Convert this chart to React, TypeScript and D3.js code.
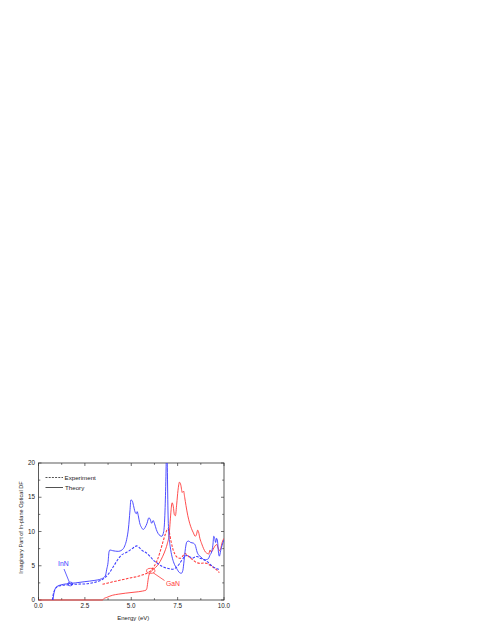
import React from "react";
import * as d3 from "d3";

// ---------- data ----------
const innTheoryX = [0.78, 0.82, 0.88, 0.95, 1.05, 1.2, 1.5, 2.0, 2.5, 3.0, 3.4, 3.6, 3.68, 3.75, 3.8, 3.85, 4.0, 4.3, 4.5, 4.65, 4.75, 4.85, 4.93, 4.98, 5.05, 5.12, 5.2, 5.27, 5.32, 5.38, 5.45, 5.55, 5.65, 5.75, 5.85, 5.95, 6.02, 6.1, 6.18, 6.25, 6.35, 6.45, 6.55, 6.65, 6.75, 6.82, 6.87, 6.9, 6.94, 6.98, 7.03, 7.1, 7.2, 7.3, 7.45, 7.6, 7.7, 7.78, 7.85, 7.92, 8.0, 8.1, 8.2, 8.35, 8.45, 8.55, 8.65, 8.75, 8.85, 8.95, 9.05, 9.15, 9.25, 9.33, 9.4, 9.45, 9.5, 9.55, 9.6, 9.65, 9.7, 9.75, 9.82, 9.9, 10.0];
const innTheoryY = [0, 0.8, 1.5, 1.85, 2.05, 2.2, 2.35, 2.5, 2.68, 2.85, 3.1, 3.5, 4.5, 5.5, 7.0, 7.3, 7.2, 7.1, 7.3, 7.9, 8.8, 10.5, 13.0, 14.6, 14.5, 13.8, 12.9, 12.6, 12.9, 12.3, 11.3, 10.6, 10.3, 10.6, 11.2, 12.0, 11.8, 11.2, 11.6, 11.2, 10.3, 9.7, 9.4, 9.3, 10.0, 13.0, 18.0, 22.0, 20.0, 13.0, 9.5, 7.8, 6.3, 5.4, 4.6, 4.0, 3.9, 4.3, 5.8, 7.5, 8.5, 8.6, 8.4, 8.3, 8.0, 7.0, 6.5, 6.3, 6.0, 5.8, 5.9, 6.0, 6.6, 7.0, 8.0, 9.3, 9.0, 8.4, 9.0, 8.6, 7.0, 6.4, 7.2, 8.0, 8.8];

const innExpX = [0.75, 0.78, 0.82, 0.88, 0.95, 1.05, 1.2, 1.5, 2.0, 2.5, 3.0, 3.3, 3.6, 3.8, 4.0, 4.2, 4.45, 4.7, 4.9, 5.1, 5.3, 5.45, 5.6, 5.8, 6.0, 6.2, 6.4, 6.6, 6.8, 7.0, 7.2, 7.4, 7.6, 7.75, 7.9, 8.0, 8.15, 8.3, 8.45, 8.55, 8.7, 8.9, 9.1, 9.3, 9.5, 9.7, 9.78];
const innExpY = [0, 0.6, 1.1, 1.5, 1.8, 2.0, 2.1, 2.2, 2.3, 2.35, 2.55, 2.8, 3.3, 3.9, 4.7, 5.6, 6.5, 6.9, 7.2, 7.6, 7.9, 7.6, 7.2, 6.9, 6.4, 5.8, 5.4, 5.0, 4.75, 4.6, 4.5, 4.7, 5.3, 5.9, 6.4, 6.5, 6.3, 6.1, 6.3, 6.35, 6.1, 5.95, 5.6, 5.1, 4.7, 4.5, 4.4];

const ganTheoryX = [0, 3.45, 3.5, 3.7, 4.0, 4.3, 4.7, 5.2, 5.6, 5.8, 5.85, 5.9, 5.95, 6.05, 6.2, 6.4, 6.55, 6.7, 6.85, 6.95, 7.05, 7.1, 7.15, 7.2, 7.27, 7.32, 7.38, 7.45, 7.52, 7.6, 7.67, 7.75, 7.82, 7.88, 7.95, 8.05, 8.15, 8.25, 8.35, 8.45, 8.52, 8.58, 8.63, 8.7, 8.8, 8.9, 9.0, 9.1, 9.17, 9.25, 9.3, 9.38, 9.45, 9.55, 9.62, 9.68, 9.75, 9.82, 9.9, 10.0];
const ganTheoryY = [0, 0, 0.15, 0.4, 0.7, 0.85, 1.0, 1.15, 1.3, 1.45, 1.8, 2.8, 3.6, 4.1, 4.5, 5.0, 5.6, 6.4, 7.4, 8.3, 9.7, 11.5, 13.2, 14.2, 13.6, 12.5, 12.3, 14.0, 16.0, 17.2, 16.8, 15.7, 15.9, 15.0, 13.8, 12.3, 11.2, 10.4, 9.8, 9.3, 9.6, 10.2, 9.9, 9.0, 8.2, 7.5, 7.0, 6.8, 6.7, 7.3, 7.0, 7.2, 7.6, 8.0, 8.1, 7.6, 7.2, 7.5, 8.4, 9.0];

const ganExpX = [3.45, 3.7, 4.0, 4.5, 5.0, 5.5, 5.9, 6.1, 6.25, 6.4, 6.55, 6.7, 6.85, 6.97, 7.05, 7.15, 7.25, 7.35, 7.5, 7.65, 7.8, 7.9, 8.0, 8.15, 8.3, 8.5, 8.7, 8.9, 9.05, 9.2, 9.4, 9.6, 9.75];
const ganExpY = [2.3, 2.45, 2.65, 2.95, 3.25, 3.55, 4.0, 4.4, 5.0, 5.8, 7.0, 8.4, 9.7, 10.4, 9.9, 8.5, 7.4, 6.7, 6.2, 6.1, 6.5, 6.8, 6.6, 6.2, 5.9, 5.5, 5.35, 5.4, 5.35, 5.15, 4.8, 4.4, 4.0];

const xTicks = [0, 2.5, 5, 7.5, 10];
const xTickLabels = ["0.0", "2.5", "5.0", "7.5", "10.0"];
const xMinorTicks = [1.25, 3.75, 6.25, 8.75];
const yTicks = [0, 5, 10, 15, 20];
const yTickLabels = ["0", "5", "10", "15", "20"];
const yMinorTicks = [2.5, 7.5, 12.5, 17.5];

const legendLabels = ["Experiment", "Theory"];
const xTitle = "Energy (eV)";
const yTitle = "Imaginary Part of In-plane Optical DF";

// annotation anchors (data coords)
const innMarker = { x: 1.71, y: 2.34, label: "InN" };
const ganMarker = { x: 6.05, y: 4.26, label: "GaN" };

const BLUE = "#3a3aff";
const RED = "#ff3a3a";
const AXIS = "#333";
const FONT = "'Liberation Sans', Arial, sans-serif";

export default function App() {
  const left = 38.5, right = 224, top = 463, bottom = 600;
  const x = d3.scaleLinear().domain([0, 10]).range([left, right]);
  const y = d3.scaleLinear().domain([0, 20]).range([bottom, top]);

  const mk = (xs: number[], ys: number[]) =>
    d3.line<number>().x((_, i) => x(xs[i])).y((_, i) => y(ys[i])).curve(d3.curveMonotoneX)(xs) || "";

  const series = [
    { d: mk(ganTheoryX, ganTheoryY), color: RED, dash: undefined, w: 0.9 },
    { d: mk(ganExpX, ganExpY), color: RED, dash: "2.6,1.4", w: 1.05 },
    { d: mk(innExpX, innExpY), color: BLUE, dash: "2.6,1.4", w: 1.05 },
    { d: mk(innTheoryX, innTheoryY), color: BLUE, dash: undefined, w: 0.9 },
  ];

  const major = 3, minor = 1.8;

  return (
    <svg width={491} height={635} style={{ position: "absolute", left: 0, top: 0, background: "#fff" }}
      fontFamily={FONT}>
      <defs>
        <clipPath id="plotclip">
          <rect x={left} y={top} width={right - left} height={bottom - top + 1} />
        </clipPath>
      </defs>
      {/* frame */}
      <rect x={left} y={top} width={right - left} height={bottom - top} fill="none" stroke={AXIS} strokeWidth={0.8} />
      {/* x ticks */}
      {xTicks.map((t) => (
        <g key={"xt" + t}>
          <line x1={x(t)} x2={x(t)} y1={bottom} y2={bottom - major} stroke={AXIS} strokeWidth={0.7} />
          <line x1={x(t)} x2={x(t)} y1={top} y2={top + major} stroke={AXIS} strokeWidth={0.7} />
        </g>
      ))}
      {xMinorTicks.map((t) => (
        <g key={"xm" + t}>
          <line x1={x(t)} x2={x(t)} y1={bottom} y2={bottom - minor} stroke={AXIS} strokeWidth={0.7} />
          <line x1={x(t)} x2={x(t)} y1={top} y2={top + minor} stroke={AXIS} strokeWidth={0.7} />
        </g>
      ))}
      {yTicks.map((t) => (
        <g key={"yt" + t}>
          <line x1={left} x2={left + major} y1={y(t)} y2={y(t)} stroke={AXIS} strokeWidth={0.7} />
          <line x1={right} x2={right - major} y1={y(t)} y2={y(t)} stroke={AXIS} strokeWidth={0.7} />
        </g>
      ))}
      {yMinorTicks.map((t) => (
        <g key={"ym" + t}>
          <line x1={left} x2={left + minor} y1={y(t)} y2={y(t)} stroke={AXIS} strokeWidth={0.7} />
          <line x1={right} x2={right - minor} y1={y(t)} y2={y(t)} stroke={AXIS} strokeWidth={0.7} />
        </g>
      ))}
      <g clipPath="url(#plotclip)">
        {series.map((s, i) => (
          <path key={i} d={s.d} fill="none" stroke={s.color} strokeWidth={s.w} strokeDasharray={s.dash} />
        ))}
      </g>
      {/* tick labels */}
      {xTicks.map((t, i) => (
        <text key={"xl" + t} x={x(t)} y={bottom + 8.2} fontSize={6.3} textAnchor="middle" fill="#222">{xTickLabels[i]}</text>
      ))}
      {yTicks.map((t, i) => (
        <text key={"yl" + t} x={left - 3.5} y={y(t) + 2.2} fontSize={6.3} textAnchor="end" fill="#222">{yTickLabels[i]}</text>
      ))}
      {/* axis titles */}
      <text x={(left + right) / 2 + 2} y={619.5} fontSize={6} textAnchor="middle" fill="#222">{xTitle}</text>
      <text transform={`translate(23,${(top + bottom) / 2 - 4}) rotate(-90)`} fontSize={5.6} textAnchor="middle" fill="#222">{yTitle}</text>
      {/* legend */}
      <line x1={45.5} x2={63} y1={477.5} y2={477.5} stroke={AXIS} strokeWidth={0.85} strokeDasharray="2,1.2" />
      <text x={64.5} y={479.7} fontSize={6.2} fill="#222">{legendLabels[0]}</text>
      <line x1={45.5} x2={63} y1={487.5} y2={487.5} stroke={AXIS} strokeWidth={0.85} />
      <text x={65} y={489.7} fontSize={6.2} fill="#222">{legendLabels[1]}</text>
      {/* InN annotation */}
      <ellipse cx={x(innMarker.x)} cy={y(innMarker.y)} rx={2.4} ry={1.9} fill="none" stroke={BLUE} strokeWidth={0.8} />
      <line x1={64} y1={569} x2={x(innMarker.x) - 0.8} y2={y(innMarker.y) - 1.6} stroke={BLUE} strokeWidth={0.8} />
      <text x={63.3} y={566.2} fontSize={6.8} textAnchor="middle" fill={BLUE}>{innMarker.label}</text>
      {/* GaN annotation */}
      <ellipse cx={x(ganMarker.x)} cy={y(ganMarker.y)} rx={4.2} ry={2.5} fill="none" stroke={RED} strokeWidth={0.8} />
      <line x1={x(ganMarker.x) + 2.5} y1={y(ganMarker.y) + 2} x2={164.5} y2={580.5} stroke={RED} strokeWidth={0.8} />
      <text x={166} y={586.3} fontSize={6.8} fill={RED}>{ganMarker.label}</text>
    </svg>
  );
}
